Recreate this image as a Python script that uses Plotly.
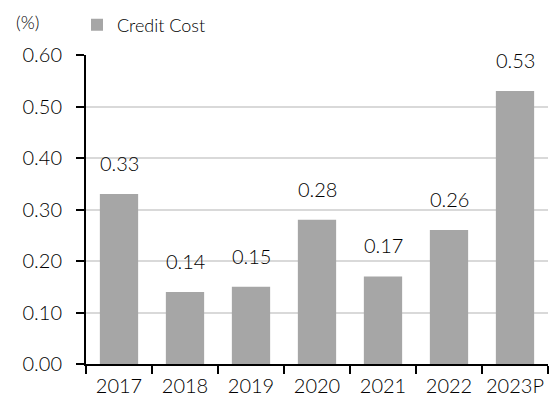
import plotly.graph_objects as go

# Credit cost ratio by year (%)
years = ["2017", "2018", "2019", "2020", "2021", "2022", "2023P"]
credit_cost = [0.33, 0.14, 0.15, 0.28, 0.17, 0.26, 0.53]
y_ticks = [0.0, 0.1, 0.2, 0.3, 0.4, 0.5, 0.6]
y_tick_text = ["0.00", "0.10", "0.20", "0.30", "0.40", "0.50", "0.60"]

FONT = "Lato, 'Noto Sans', sans-serif"
BAR = "#a6a6a6"
INK = "#000000"

PLOT_W, PLOT_H = 552 - 86 - 4, 412 - 55 - 48

fig = go.Figure()
fig.add_trace(go.Bar(
    x=years,
    y=credit_cost,
    name="Credit Cost",
    marker=dict(color=BAR, line=dict(width=0)),
))

# value labels floating above each bar (category axis -> serial index)
for i, v in enumerate(credit_cost):
    fig.add_annotation(
        x=i, y=v, xref="x", yref="y",
        text=f"{v:.2f}", showarrow=False,
        yanchor="bottom", yshift=17,
        font=dict(size=20, color=INK, family=FONT, weight=300),
    )

fig.add_annotation(
    text="(%)", xref="paper", yref="paper",
    x=(27 - 86) / PLOT_W, y=1 + (55 - 22) / PLOT_H,
    xanchor="center", yanchor="middle", showarrow=False,
    font=dict(size=18, color=INK, family=FONT, weight=300),
)

fig.update_layout(
    width=552,
    height=412,
    margin=dict(l=86, r=4, t=55, b=48),
    paper_bgcolor="white",
    plot_bgcolor="white",
    bargap=0.42,
    font=dict(family=FONT, size=20, color=INK, weight=300),
    showlegend=True,
    legend=dict(
        x=(77 - 86) / PLOT_W, y=1 + (55 - 25) / PLOT_H, xref="paper", yref="paper",
        xanchor="left", yanchor="middle",
        orientation="h",
        font=dict(size=18, family=FONT, weight=300, color=INK),
        bgcolor="rgba(0,0,0,0)",
        itemwidth=30,
    ),
    xaxis=dict(
        type="category",
        showline=True, linecolor="black", linewidth=2,
        ticks="outside", tickson="boundaries", ticklen=8, tickwidth=2, tickcolor="black",
        tickfont=dict(size=20),
        tickangle=0,
        ticklabelstandoff=3,
        showgrid=False,
    ),
    yaxis=dict(
        range=[0, 0.6],
        tickvals=y_ticks, ticktext=y_tick_text,
        showline=True, linecolor="black", linewidth=2,
        ticks="outside", ticklen=8, tickwidth=2, tickcolor="black",
        showgrid=True, gridcolor="#d9d9d9", gridwidth=2,
        zeroline=False,
        tickfont=dict(size=20),
        ticklabelstandoff=10,
    ),
)

fig.write_html("out.html")
